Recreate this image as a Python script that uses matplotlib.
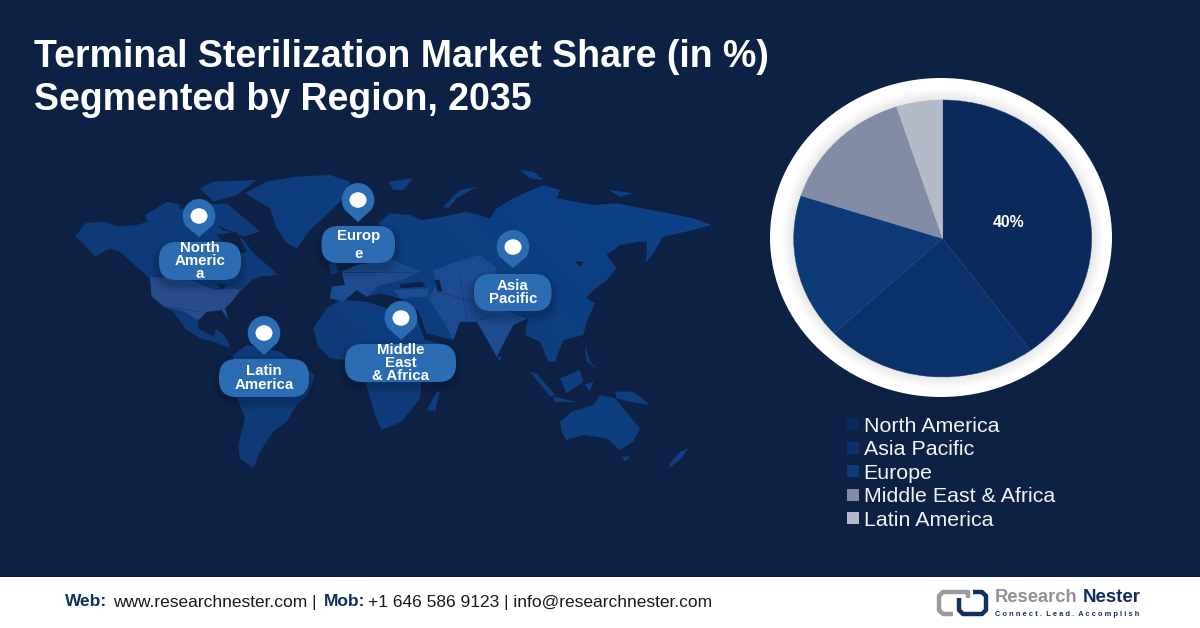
import numpy as np
import matplotlib
matplotlib.use("Agg")
import matplotlib.pyplot as plt
from matplotlib.patches import FancyBboxPatch, PathPatch, Polygon, Rectangle, Ellipse
from matplotlib.path import Path
from matplotlib.lines import Line2D

plt.rcParams['font.family'] = ['Liberation Sans', 'DejaVu Sans']

# ---------- data ----------
regions = ["North America", "Asia Pacific", "Europe", "Middle East & Africa", "Latin America"]
shares = [40, 23, 17, 15, 5]
shown_labels = ["40%", "", "", "", ""]
slice_colors = ["#0b2a5c", "#0a3169", "#0c3b77", "#828ca6", "#b4bac8"]
title_lines = ["Terminal Sterilization Market Share (in %)", "Segmented by Region, 2035"]
callout_texts = ["North\nAmeric\na", "Europ\n\ne", "Asia\nPacific", "Middle\nEast\n& Africa", "Latin\nAmerica"]

BG = "#0d2145"
W_PX, H_PX = 1200, 628
fig = plt.figure(figsize=(12, 6.28), dpi=100, facecolor=BG)
bg = fig.add_axes([0, 0, 1, 1])
bg.set_xlim(0, W_PX); bg.set_ylim(H_PX, 0); bg.axis("off")

# ---------- decorative world map (traced outlines in two crop frames) ----------
def A(pts):
    return [(70 + x / 3.0, 165 + y / 3.0) for x, y in pts]
def B(pts):
    return [(300 + x / 3.0, 165 + y / 3.0) for x, y in pts]

land = [
 A([(15,215),(45,175),(100,170),(145,185),(200,180),(235,170),(225,150),(260,130),(300,135),(345,130),(430,165),(455,195),(500,205),(520,225),(555,270),(610,315),(620,330),(570,335),(545,345),(520,370),(500,390),(490,405),(465,430),(475,465),(455,435),(410,440),(385,465),(385,490),(430,515),(440,490),(470,520),(480,550),(430,530),(390,520),(345,490),(310,440),(280,425),(245,395),(240,340),(205,310),(150,260),(120,250),(75,275),(40,235)]),
 A([(230,150),(290,110),(330,120),(320,170),(260,170)]),
 A([(390,70),(430,50),(560,45),(500,90),(430,110)]),
 A([(400,120),(470,115),(570,200),(520,215),(440,180)]),
 A([(525,85),(590,50),(680,35),(780,30),(840,50),(820,100),(770,150),(720,195),(680,250),(650,235),(620,190),(600,130)]),
 A([(490,570),(530,540),(630,560),(735,630),(715,690),(680,720),(650,770),(610,800),(570,860),(550,910),(510,880),(505,840),(525,760),(510,720),(480,650)]),
 B([(40,490),(80,430),(120,405),(200,410),(290,440),(350,460),(375,525),(440,540),(400,580),(365,640),(360,700),(305,770),(245,795),(225,750),(205,680),(175,590),(90,580),(55,545)]),
 B([(410,680),(420,680),(405,740),(380,735)]),
 B([(90,400),(95,365),(135,360),(125,320),(170,300),(250,290),(290,240),(260,210),(235,175),(270,145),(330,150),(365,165),(430,155),(500,140),(570,160),(590,130),(640,100),(730,60),(780,75),(770,100),(880,120),(950,115),(1080,140),(1180,160),(1235,180),(1180,195),(1090,215),(1040,290),(1040,230),(1020,230),(960,240),(920,270),(950,310),(920,345),(870,385),(860,400),(885,415),(860,470),(850,510),(790,525),(765,590),(745,590),(720,530),(675,510),(685,460),(640,480),(590,575),(565,530),(530,470),(480,470),(460,525),(380,505),(355,440),(300,400),(240,385),(200,395),(170,375),(130,410)]),
 B([(85,300),(105,290),(115,320),(95,330)]),
 B([(265,50),(340,40),(310,75),(280,75)]),
 B([(430,125),(480,75),(530,65),(470,100),(445,130)]),
 B([(660,15),(700,20),(730,45),(690,40)]),
 B([(925,75),(1000,85),(960,95)]),
 B([(1035,290),(1050,250),(1085,215),(1060,265)]),
 B([(690,620),(710,625),(765,690),(750,695)]),
 B([(780,640),(840,615),(850,650),(800,685)]),
 B([(760,695),(835,712),(765,710)]),
 B([(855,660),(880,650),(870,680)]),
 B([(855,540),(870,590),(890,610),(860,590)]),
 B([(945,680),(1000,680),(1050,720),(990,710),(950,700)]),
 B([(780,770),(815,740),(880,720),(900,690),(945,700),(965,725),(1020,790),(1000,830),(960,855),(920,820),(850,810),(800,825),(785,800)]),
 B([(1110,895),(1140,860),(1165,850),(1140,885),(1105,910)]),
 B([(965,875),(990,875),(975,890)]),
 B([(590,575),(605,575),(600,590)]),
]

def oriented(p):
    x = np.array([q[0] for q in p]); y = np.array([q[1] for q in p])
    area = np.sum(x * np.roll(y, -1) - np.roll(x, -1) * y)
    return p if area > 0 else p[::-1]

verts, codes = [], []
for p in land:
    p = oriented(p)
    verts += p + [p[0]]
    codes += [Path.MOVETO] + [Path.LINETO] * (len(p) - 1) + [Path.CLOSEPOLY]
land_path = Path(verts, codes)
clip = PathPatch(land_path, transform=bg.transData, facecolor="none", edgecolor="none")
bg.add_patch(clip)

gx, gy = np.meshgrid(np.linspace(0, 1, 200), np.linspace(0, 1, 120))
mix = np.clip(0.35 + 0.75 * gx - 0.35 * gy, 0, 1)[..., None]
dark = np.array([0x10, 0x38, 0x70]) / 255
light = np.array([0x0c, 0x42, 0x88]) / 255
im = bg.imshow(dark + (light - dark) * mix, extent=(60, 730, 480, 160), aspect="auto", zorder=1)
im.set_clip_path(clip)
bg.set_xlim(0, W_PX); bg.set_ylim(H_PX, 0)

highlights = [
 (A([(240,335),(360,345),(435,375),(490,370),(510,375),(490,405),(465,430),(475,465),(455,435),(410,440),(385,465),(340,440),(285,425),(245,395)]), "#274c8c"),
 (B([(90,400),(95,365),(135,360),(125,320),(170,300),(280,285),(360,320),(310,345),(240,360),(200,395),(170,375),(130,410)]), "#1c4b8f"),
 (B([(280,375),(385,370),(385,395),(300,400)]), "#1c4b8f"),
 (B([(400,315),(470,290),(540,270),(590,310),(545,410),(680,460),(640,480),(590,575),(565,530),(530,470),(480,470),(460,525),(430,470),(385,400),(410,360)]), "#1c4b8f"),
]
for poly, col in highlights:
    bg.add_patch(Polygon(poly, closed=True, facecolor=col, edgecolor="none", zorder=2))

water = [
 A([(440,210),(500,200),(530,260),(500,270),(470,250)]),
 A([(440,355),(470,360),(455,375)]),
 B([(405,345),(418,345),(428,380),(412,378)]),
 B([(825,290),(850,290),(840,305)]),
 B([(300,358),(365,350),(378,364),(300,370)]),
]
for poly in water:
    bg.add_patch(Polygon(poly, closed=True, facecolor=BG, edgecolor="none", zorder=3))

borders = [
 B([(120,405),(130,500),(175,590)]), B([(200,410),(195,560)]), B([(55,500),(290,500)]),
 B([(225,720),(360,690)]), B([(125,320),(340,320)]),
 B([(480,330),(500,470)]), B([(410,380),(590,430)]), B([(590,420),(680,460)]),
 B([(720,530),(760,490)]), B([(530,470),(580,445)]),
 A([(285,425),(385,440)]), A([(145,185),(150,260)]),
]
for z in borders:
    bg.plot([p[0] for p in z], [p[1] for p in z], color="#123a72", lw=0.5, zorder=3)

# ---------- callouts ----------
PILL = "#2c6cb2"
pills = [(159, 242, 241, 280), (321.5, 226, 395, 263), (474, 274, 551.5, 311), (345, 344, 456, 382), (219, 359, 309, 397)]
pins = [(199, 216, 237), (358, 200, 222), (513, 247, 268), (401, 318, 340), (264, 333, 355)]

for (x0, y0, x1, y1), txt in zip(pills, callout_texts):
    h = y1 - y0
    r = h * 0.46
    for grow, alpha in [(8, 0.07), (5, 0.09), (2, 0.12)]:
        bg.add_patch(FancyBboxPatch((x0 + r, y0 + r + 5), x1 - x0 - 2 * r, h - 2 * r,
                                    boxstyle=f"round,pad={r + grow},rounding_size={r + grow}",
                                    facecolor="#06132b", edgecolor="none", alpha=alpha, zorder=4))
    bg.add_patch(FancyBboxPatch((x0 + r, y0 + r), x1 - x0 - 2 * r, h - 2 * r,
                                boxstyle=f"round,pad={r},rounding_size={r}",
                                facecolor=PILL, edgecolor="none", zorder=5))
    lines = txt.split("\n")
    n = len(lines)
    cx, cy = (x0 + x1) / 2, (y0 + y1) / 2
    if txt.startswith("Europ"):
        bg.text(cx, 236, lines[0], color="white", fontsize=10.8, fontweight="bold", ha="center", va="center", zorder=7)
        bg.text(cx, 254.5, lines[2], color="white", fontsize=10.8, fontweight="bold", ha="center", va="center", zorder=7)
    else:
        for i, s in enumerate(lines):
            bg.text(cx, cy + (i - (n - 1) / 2) * 13.2, s, color="white", fontsize=10.8, fontweight="bold",
                    ha="center", va="center", zorder=7)

for cx, cy, tip in pins:
    rx, ry = 16.3, 17.0
    a = np.linspace(np.radians(-35), np.radians(215), 60)
    pts = [(cx + rx * np.cos(t), cy - ry * np.sin(t)) for t in a] + [(cx, tip)]
    bg.add_patch(Polygon(pts, closed=True, facecolor=PILL, edgecolor="none", zorder=6))
    bg.add_patch(Ellipse((cx, cy), 17, 15.5, facecolor="white", edgecolor="none", zorder=7))

# ---------- title ----------
for s, y in zip(title_lines, [57, 100]):
    bg.text(34, y, s, color="white", fontsize=27, fontweight="bold", ha="left", va="center", zorder=8)

# ---------- ring + pie ----------
pcx, pcy, prx, pry = 942.7, 238.5, 149.0, 138.5
bg.add_patch(Ellipse((941, 237.5), 342, 319, facecolor="white", edgecolor="none", zorder=2))
for i, g in enumerate(np.linspace(254, 232, 12)):
    col = (g / 255, g / 255, (g + 1) / 255)
    grow = 12 - i
    bg.add_patch(Ellipse((pcx, pcy), 2 * (prx + grow), 2 * (pry + grow), facecolor=col, edgecolor="none", zorder=2))

pax = fig.add_axes([(pcx - prx) / W_PX, 1 - (pcy + pry) / H_PX, 2 * prx / W_PX, 2 * pry / H_PX])
pax.patch.set_alpha(0)
wedges, _, autotexts = pax.pie(
    shares, colors=slice_colors, startangle=90, counterclock=False, radius=1,
    autopct=lambda p: shown_labels[min(range(len(shares)), key=lambda i: abs(shares[i] / sum(shares) * 100 - p))],
    pctdistance=0.46, wedgeprops=dict(linewidth=0.3),
    textprops=dict(color="white", fontsize=11.4, fontweight="bold"))
autotexts[0].set_position((0.445, 0.119))
for w, c in zip(wedges, ["#1d3e72", "#1d3e72", "#1d3e72", slice_colors[3], slice_colors[4]]):
    w.set_edgecolor(c)
pax.set_aspect("auto")
pax.set_xlim(-1, 1); pax.set_ylim(-1, 1)

# ---------- legend ----------
handles = [Line2D([], [], linestyle="none", marker="s", markersize=8, color=c, markeredgewidth=0) for c in slice_colors]
fig.legend(handles, regions, loc="upper left", bbox_to_anchor=(832 / W_PX, 1 - 406 / H_PX), frameon=False,
           fontsize=15.4, labelcolor="#f2f4f8", labelspacing=0.21, handletextpad=0.0, borderpad=0, handlelength=0.98)

# ---------- footer ----------
bg.add_patch(Rectangle((0, 576), W_PX, 52, facecolor="white", edgecolor="none", zorder=10))
bg.add_patch(Rectangle((0, 575), W_PX, 1.6, facecolor="#0a1c3d", edgecolor="none", zorder=10))
footer = [(65, "Web:", "bold", "#12305c"), (113, "www.researchnester.com |", "normal", "#1a1a1a"), (324, "Mob:", "bold", "#12305c"),
          (368.5, "+1 646 586 9123 | info@researchnester.com", "normal", "#1a1a1a")]
for x, s, w, c in footer:
    bg.text(x, 602, s, color=c, fontsize=12.5, fontweight=w, ha="left", va="center", zorder=11)

# logo
GREY, NAVY = "#9a9a9a", "#12305c"
bg.plot([968, 968, 943, 939, 939, 943, 953], [598, 592, 592, 596, 610, 614, 614], color=GREY, lw=3.2,
        solid_joinstyle="round", solid_capstyle="butt", zorder=11)
bg.plot([959, 959, 963, 982, 986, 986, 982, 973], [598, 610, 614, 614, 610, 596, 592, 592], color=NAVY, lw=3.2,
        solid_joinstyle="round", solid_capstyle="butt", zorder=12)
bg.text(995, 598, "Research", color="#8f9296", fontsize=13.2, fontweight="bold", ha="left", va="center", zorder=15)
bg.text(1083, 598, "Nester", color=NAVY, fontsize=13.4, fontweight="bold", ha="left", va="center", zorder=15)
bg.text(995, 614, "C o n n e c t .  L e a d .  A c c o m p l i s h", color=NAVY, fontsize=5.4, fontweight="bold",
        ha="left", va="center", zorder=15)

fig.savefig("out.png", dpi=100, facecolor=BG)
